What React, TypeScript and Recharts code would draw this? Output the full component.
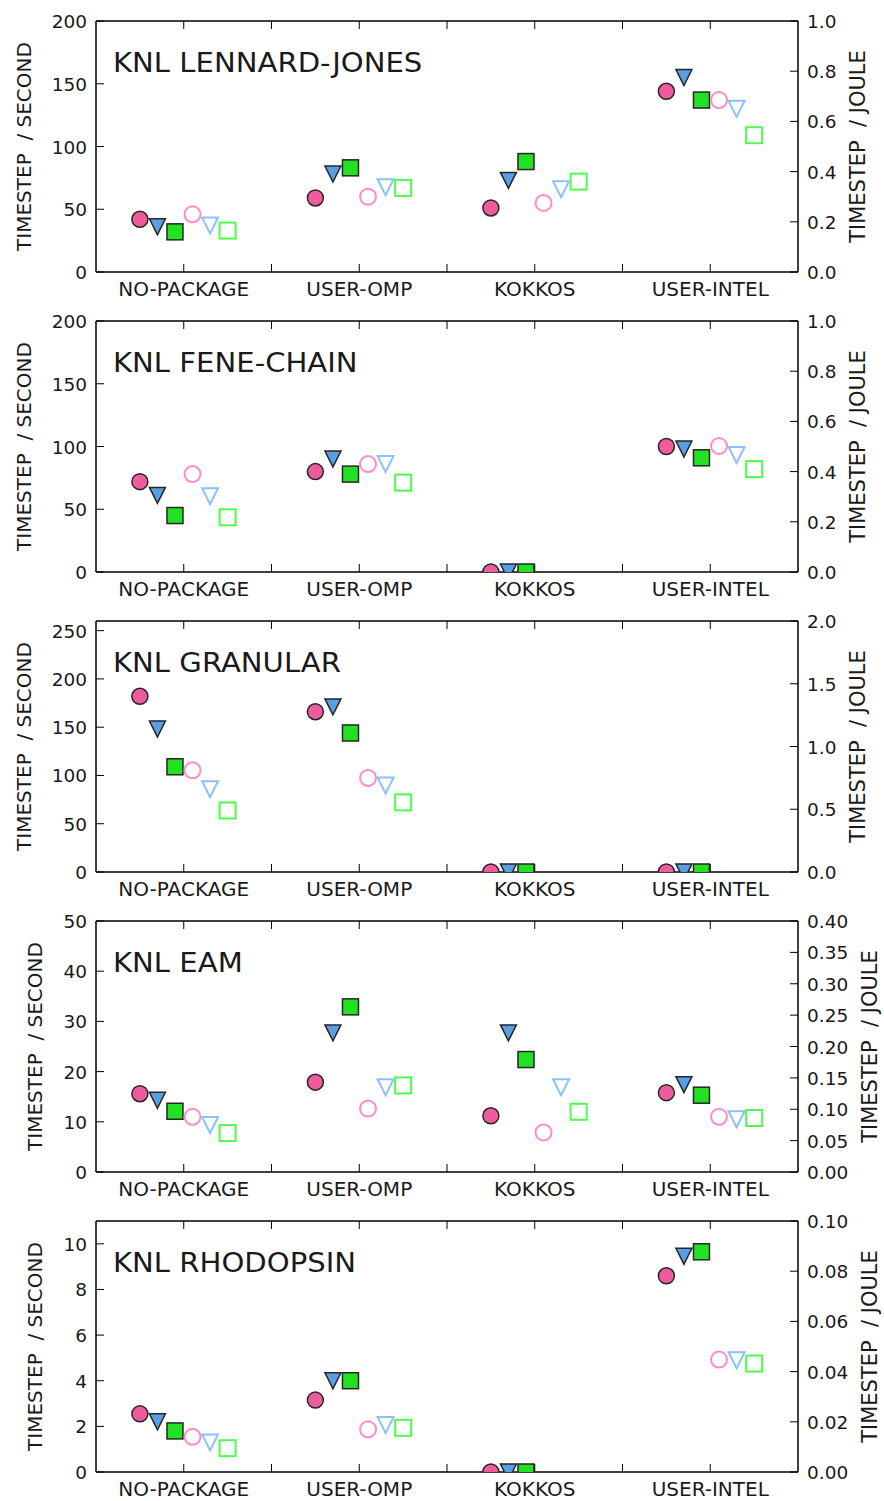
import React from "react";
import { ComposedChart, Scatter, XAxis, YAxis } from "recharts";

const categories = ["NO-PACKAGE", "USER-OMP", "KOKKOS", "USER-INTEL"];
const xTicks = [1, 1.5, 2, 2.5, 3, 3.5, 4];

// KNL LENNARD-JONES  (per second: circle, triangle, square / per joule: same)
const ljSecCircle = [42, 59, 51, 144];
const ljSecTri = [36, 78, 73, 155];
const ljSecSquare = [32, 83, 88, 137];
const ljJouleCircle = [0.23, 0.3, 0.275, 0.685];
const ljJouleTri = [0.185, 0.338, 0.33, 0.65];
const ljJouleSquare = [0.165, 0.335, 0.36, 0.545];

// KNL FENE-CHAIN
const feneSecCircle = [72, 80, 0, 100];
const feneSecTri = [61, 90, 0, 98];
const feneSecSquare = [45, 78, 0, 91];
const feneJouleCircle = [0.39, 0.43, null, 0.502];
const feneJouleTri = [0.302, 0.43, null, 0.466];
const feneJouleSquare = [0.218, 0.356, null, 0.41];

// KNL GRANULAR
const granSecCircle = [182, 166, 0, 0];
const granSecTri = [148, 171, 0, 0];
const granSecSquare = [109, 144, 0, 0];
const granJouleCircle = [0.81, 0.75, null, null];
const granJouleTri = [0.66, 0.69, null, null];
const granJouleSquare = [0.49, 0.555, null, null];

// KNL EAM
const eamSecCircle = [15.6, 17.9, 11.2, 15.8];
const eamSecTri = [14.3, 27.7, 27.7, 17.4];
const eamSecSquare = [12.1, 32.9, 22.4, 15.3];
const eamJouleCircle = [0.088, 0.101, 0.063, 0.088];
const eamJouleTri = [0.075, 0.135, 0.135, 0.084];
const eamJouleSquare = [0.062, 0.138, 0.096, 0.086];

// KNL RHODOPSIN
const rhoSecCircle = [2.55, 3.15, 0, 8.6];
const rhoSecTri = [2.2, 4.0, 0, 9.45];
const rhoSecSquare = [1.8, 4.0, 0, 9.65];
const rhoJouleCircle = [0.014, 0.017, null, 0.0448];
const rhoJouleTri = [0.0118, 0.0187, null, 0.0445];
const rhoJouleSquare = [0.0095, 0.0176, null, 0.0432];

// axis ticks
const ticks200 = [0, 50, 100, 150, 200];
const ticks250 = [0, 50, 100, 150, 200, 250];
const ticks50 = [0, 10, 20, 30, 40, 50];
const ticks10 = [0, 2, 4, 6, 8, 10];
const joule1 = [0, 0.2, 0.4, 0.6, 0.8, 1.0];
const joule2 = [0, 0.5, 1.0, 1.5, 2.0];
const joule04 = [0, 0.05, 0.1, 0.15, 0.2, 0.25, 0.3, 0.35, 0.4];
const joule01 = [0, 0.02, 0.04, 0.06, 0.08, 0.1];

const FONT = "DejaVu Sans";
const TXT = "#1a1a1a";
const secOffsets = [-0.25, -0.15, -0.05];
const jouleOffsets = [0.05, 0.15, 0.25];
const S = 16; // marker size

const filledColors = ["#ee5c9e", "#5a9ee6", "#22e022"];
const hollowColors = ["#ff8cc6", "#8cc0ff", "#4cff4c"];

const Marker = ({ cx, cy, kind, fill, stroke, sw }: any) => {
  if (cx == null || cy == null) return null;
  const h = S / 2;
  if (kind === 0) return <circle cx={cx} cy={cy} r={h} fill={fill} stroke={stroke} strokeWidth={sw} />;
  if (kind === 1)
    return (
      <polygon
        points={`${cx - h},${cy - h} ${cx + h},${cy - h} ${cx},${cy + h}`}
        fill={fill}
        stroke={stroke}
        strokeWidth={sw}
        strokeLinejoin="miter"
      />
    );
  return <rect x={cx - h} y={cy - h} width={S} height={S} fill={fill} stroke={stroke} strokeWidth={sw} />;
};

const toPoints = (vals: (number | null)[], off: number) =>
  vals.map((v, i) => ({ x: i + 1 + off, y: v })).filter((p) => p.y != null);

const textWidth = (s: string, size: number) =>
  s.split("").reduce((w, c) => w + (c === "." ? 0.318 : 0.636), 0) * size;

const BottomTick = (p: any) => {
  const v = p.payload.value;
  return (
    <g>
      <line x1={p.x} x2={p.x} y1={p.y} y2={p.y - 8} stroke="#000" strokeWidth={1} />
      {Number.isInteger(v) && (
        <text x={p.x} y={p.y + 23.5} textAnchor="middle" fontSize={20} fontFamily={FONT} fill={TXT}>
          {categories[v - 1]}
        </text>
      )}
    </g>
  );
};

const TopTick = (p: any) => (
  <line x1={p.x} x2={p.x} y1={p.y} y2={p.y + 8} stroke="#000" strokeWidth={1} />
);

const LeftTick = (p: any) => (
  <g>
    <line x1={p.x} x2={p.x + 8} y1={p.y} y2={p.y} stroke="#000" strokeWidth={1} />
    <text x={p.x - 9} y={p.y + 7} textAnchor="end" fontSize={18.5} fontFamily={FONT} fill={TXT}>
      {String(p.payload.value)}
    </text>
  </g>
);

const makeRightTick = (dec: number) => (p: any) => (
  <g>
    <line x1={p.x} x2={p.x - 8} y1={p.y} y2={p.y} stroke="#000" strokeWidth={1} />
    <text x={p.x + 9} y={p.y + 7} textAnchor="start" fontSize={18.5} fontFamily={FONT} fill={TXT}>
      {p.payload.value.toFixed(dec)}
    </text>
  </g>
);

const W = 884;
const H = 300; // panel pitch
const CH = 314; // chart svg height, extends under the next panel so labels are not cut
// axes take 1px each, so plot area is 96..798 x 21..272
const M = { top: 20, right: 85, bottom: 27 + (CH - H), left: 95 };
const PL = M.left + 1;
const PR = W - M.right - 1;

function Panel({ title, sec, joule, leftTicks, leftMax, rightTicks, rightMax, dec }: any) {
  const leftW = Math.max(...leftTicks.map((t: number) => textWidth(String(t), 18.5)));
  const rightW = Math.max(...rightTicks.map((t: number) => textWidth(t.toFixed(dec), 18.5)));
  const leftLabelX = PL - 9 - leftW - 21;
  const rightLabelX = PR + 9 + rightW + 29;
  const midY = 21 + 251 / 2;
  return (
    <div style={{ position: "relative", width: W, height: H, overflow: "visible" }}>
      <div style={{ position: "absolute", left: 0, top: 0 }}>
        <ComposedChart width={W} height={CH} margin={M}>
          <XAxis
            xAxisId="b"
            type="number"
            dataKey="x"
            domain={[0.5, 4.5]}
            ticks={xTicks}
            interval={0}
            height={1}
            tickSize={0}
            tickMargin={0}
            tickLine={false}
            tick={BottomTick}
            axisLine={{ stroke: "#000", strokeWidth: 1.5 }}
            allowDataOverflow
          />
          <XAxis
            xAxisId="t"
            orientation="top"
            type="number"
            dataKey="x"
            domain={[0.5, 4.5]}
            ticks={xTicks}
            interval={0}
            height={1}
            tickSize={0}
            tickMargin={0}
            tickLine={false}
            tick={TopTick}
            axisLine={{ stroke: "#000", strokeWidth: 1.5 }}
            allowDataOverflow
          />
          <YAxis
            yAxisId="left"
            type="number"
            dataKey="y"
            domain={[0, leftMax]}
            ticks={leftTicks}
            interval={0}
            width={1}
            tickSize={0}
            tickMargin={0}
            tickLine={false}
            tick={LeftTick}
            axisLine={{ stroke: "#000", strokeWidth: 1.5 }}
            allowDataOverflow
          />
          <YAxis
            yAxisId="right"
            orientation="right"
            type="number"
            dataKey="y"
            domain={[0, rightMax]}
            ticks={rightTicks}
            interval={0}
            width={1}
            tickSize={0}
            tickMargin={0}
            tickLine={false}
            tick={makeRightTick(dec)}
            axisLine={{ stroke: "#000", strokeWidth: 1.5 }}
            allowDataOverflow
          />
          {sec.map((vals: any, k: number) => (
            <Scatter
              key={`s${k}`}
              xAxisId="b"
              yAxisId="left"
              data={toPoints(vals, secOffsets[k])}
              isAnimationActive={false}
              shape={(p: any) => <Marker cx={p.cx} cy={p.cy} kind={k} fill={filledColors[k]} stroke="#262626" sw={1.5} />}
            />
          ))}
          {joule.map((vals: any, k: number) => (
            <Scatter
              key={`j${k}`}
              xAxisId="b"
              yAxisId="right"
              data={toPoints(vals, jouleOffsets[k])}
              isAnimationActive={false}
              shape={(p: any) => <Marker cx={p.cx} cy={p.cy} kind={k} fill="none" stroke={hollowColors[k]} sw={2} />}
            />
          ))}
        </ComposedChart>
      </div>
      <svg width={W} height={H} style={{ position: "absolute", left: 0, top: 0, pointerEvents: "none" }}>
        <text transform="translate(113,72) scale(1.12,1)" fontSize={26} fontFamily={FONT} fill={TXT}>
          {title}
        </text>
        <text
          transform={`translate(${leftLabelX},${midY}) rotate(-90)`}
          textAnchor="middle"
          fontSize={20}
          fontFamily={FONT}
          fill={TXT}
          style={{ whiteSpace: "pre" }}
        >
          {"TIMESTEP  / SECOND"}
        </text>
        <text
          transform={`translate(${rightLabelX},${midY}) rotate(-90)`}
          textAnchor="middle"
          fontSize={21}
          fontFamily={FONT}
          fill={TXT}
          style={{ whiteSpace: "pre" }}
        >
          {"TIMESTEP  / JOULE"}
        </text>
      </svg>
    </div>
  );
}

export default function App() {
  return (
    <div
      style={{ position: "absolute", left: 0, top: 0, width: W, height: 1501, background: "#fff", overflow: "hidden" }}
    >
      <Panel
        title="KNL LENNARD-JONES"
        sec={[ljSecCircle, ljSecTri, ljSecSquare]}
        joule={[ljJouleCircle, ljJouleTri, ljJouleSquare]}
        leftTicks={ticks200}
        leftMax={200}
        rightTicks={joule1}
        rightMax={1}
        dec={1}
      />
      <Panel
        title="KNL FENE-CHAIN"
        sec={[feneSecCircle, feneSecTri, feneSecSquare]}
        joule={[feneJouleCircle, feneJouleTri, feneJouleSquare]}
        leftTicks={ticks200}
        leftMax={200}
        rightTicks={joule1}
        rightMax={1}
        dec={1}
      />
      <Panel
        title="KNL GRANULAR"
        sec={[granSecCircle, granSecTri, granSecSquare]}
        joule={[granJouleCircle, granJouleTri, granJouleSquare]}
        leftTicks={ticks250}
        leftMax={260}
        rightTicks={joule2}
        rightMax={2}
        dec={1}
      />
      <Panel
        title="KNL EAM"
        sec={[eamSecCircle, eamSecTri, eamSecSquare]}
        joule={[eamJouleCircle, eamJouleTri, eamJouleSquare]}
        leftTicks={ticks50}
        leftMax={50}
        rightTicks={joule04}
        rightMax={0.4}
        dec={2}
      />
      <Panel
        title="KNL RHODOPSIN"
        sec={[rhoSecCircle, rhoSecTri, rhoSecSquare]}
        joule={[rhoJouleCircle, rhoJouleTri, rhoJouleSquare]}
        leftTicks={ticks10}
        leftMax={11}
        rightTicks={joule01}
        rightMax={0.1}
        dec={2}
      />
    </div>
  );
}
